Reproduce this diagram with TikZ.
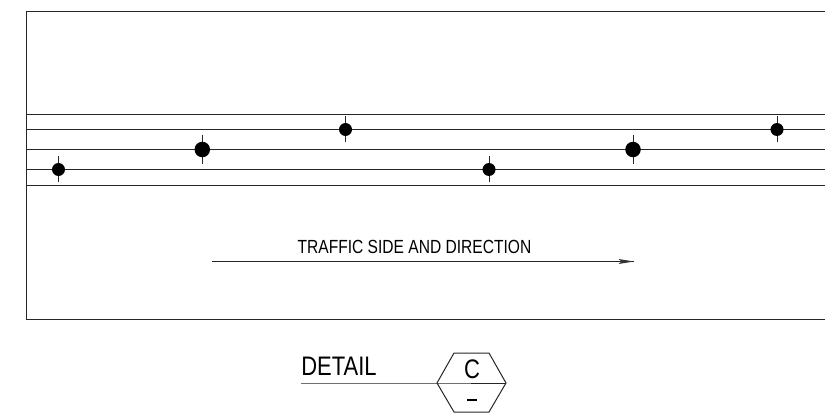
\documentclass[tikz,border=0pt]{standalone}
\usepackage{fontspec}
\setmainfont{Liberation Sans}
\tikzset{
  ln/.style={line width=1pt,black!85},
  smalldot/.style={circle,fill=black,inner sep=0pt,minimum size=13pt},
  bigdot/.style={circle,fill=black,inner sep=0pt,minimum size=15.5pt},
  tick/.style={line width=0.9pt,black!85},
  lab/.style={inner sep=0pt,anchor=center,text=black}
}
\begin{document}
\begin{tikzpicture}[x=1pt,y=-1pt]
\useasboundingbox (0,0) rectangle (825,417);
\fill[white] (0,0) rectangle (825,417);
\draw[ln] (825,11.5) -- (26.5,11.5) -- (26.5,319.5) -- (825,319.5);
\foreach \y in {114.5,129.5,149.5,169.5,185.5}{\draw[ln] (26.5,\y) -- (825,\y);}
\foreach \n/\x/\y/\s/\t in {a/58.5/169.5/smalldot/13,b/202.3/149.5/bigdot/14.5,c/345.5/129.5/smalldot/13,d/489/169.5/smalldot/13,e/633/149.5/bigdot/14.5,f/777/129.5/smalldot/13}{
  \draw[tick] (\x,\y-\t) -- (\x,\y+\t);
  \node[\s] (\n) at (\x,\y) {};
}
\coordinate (as) at (212,261.5);
\coordinate (ae) at (634,261.5);
\draw[ln] (as) -- (ae);
\fill[black!80] (ae) -- (618.5,259) -- (621.5,261.5) -- (618.5,264) -- cycle;
\node[lab] (t) at (414.5,247) {\scalebox{0.82}[1]{\fontsize{19pt}{21pt}\selectfont TRAFFIC SIDE AND DIRECTION}};
\node[lab] (dt) at (339,366) {\scalebox{0.82}[1]{\fontsize{26.8pt}{29pt}\selectfont DETAIL}};
\coordinate (hl) at (437,383);
\coordinate (hr) at (506,383);
\coordinate (hs) at (301,383);
\draw[ln] (hs) -- (hl) -- (hr);
\draw[ln] (hl) -- (454,353) -- (489,353) -- (hr) -- (489,412) -- (454,412) -- cycle;
\node[lab] (cc) at (472,369) {\scalebox{0.82}[1]{\fontsize{26.8pt}{29pt}\selectfont C}};
\draw[line width=2pt,black] (467,399.5) -- (477,399.5);
\end{tikzpicture}
\end{document}
